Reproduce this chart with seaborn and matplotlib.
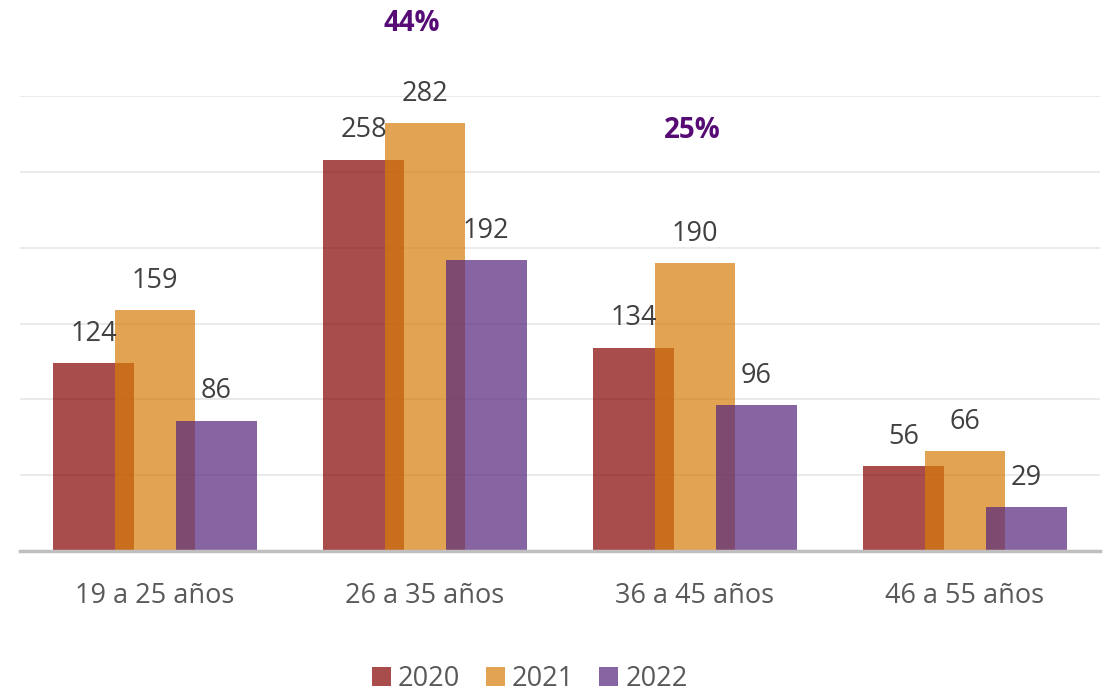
import matplotlib
matplotlib.use("Agg")
import matplotlib.pyplot as plt
import seaborn as sns
import pandas as pd

# Age groups and counts per year
categories = ["19 a 25 años", "26 a 35 años", "36 a 45 años", "46 a 55 años"]
years = ["2020", "2021", "2022"]
values_2020 = [124, 258, 134, 56]
values_2021 = [159, 282, 190, 66]
values_2022 = [86, 192, 96, 29]

# Highlighted percentages over two groups
pct_labels = ["44%", "25%"]
pct_groups = [1, 2]
pct_heights = [348, 277]
pct_shift = [-0.05, -0.01]

colors = ["#830000", "#D67D08", "#55247C"]

df = pd.DataFrame({
    "grupo": categories * 3,
    "año": [y for y in years for _ in categories],
    "valor": values_2020 + values_2021 + values_2022,
})

sns.set_theme(style="white")
plt.rcParams["font.family"] = ["Open Sans", "DejaVu Sans"]

fig = plt.figure(figsize=(11.04, 6.95), dpi=100)
ax = fig.add_axes([20 / 1104, 1 - 551 / 695, 1080 / 1104, (551 - 96) / 695])

sns.barplot(data=df, x="grupo", y="valor", hue="año", palette=colors,
            saturation=1, width=0.678, gap=-0.327, alpha=0.7, linewidth=0,
            ax=ax, legend=True)

ax.set_xlim(-0.5, 3.5)
ax.set_ylim(0, 300)
ax.set_yticks(range(50, 301, 50))
ax.yaxis.grid(True, color="#E6E6E6", linewidth=1.2)
ax.set_axisbelow(True)
ax.tick_params(axis="y", left=False, labelleft=False)
ax.tick_params(axis="x", bottom=False, labelsize=19.5, colors="#595959", pad=16)
ax.set_xlabel("")
ax.set_ylabel("")
for side in ["top", "right", "left"]:
    ax.spines[side].set_visible(False)
ax.spines["bottom"].set_color("#BFBFBF")
ax.spines["bottom"].set_linewidth(2.5)

# value labels above each bar
for container in ax.containers:
    ax.bar_label(container, padding=11, fontsize=19.5, color="#404040")

for lab, g, h, s in zip(pct_labels, pct_groups, pct_heights, pct_shift):
    ax.text(g + s, h, lab, ha="center", va="center", fontsize=20,
            fontweight="bold", color="#560B75", clip_on=False)

handles, labels = ax.get_legend_handles_labels()
ax.legend(handles, labels, loc="center", bbox_to_anchor=(0.472, -0.282),
          ncol=3, frameon=False, fontsize=19.5, labelcolor="#595959",
          handlelength=0.7, handleheight=0.7, handletextpad=0.25,
          columnspacing=0.95)

fig.savefig("out.png", dpi=100)
